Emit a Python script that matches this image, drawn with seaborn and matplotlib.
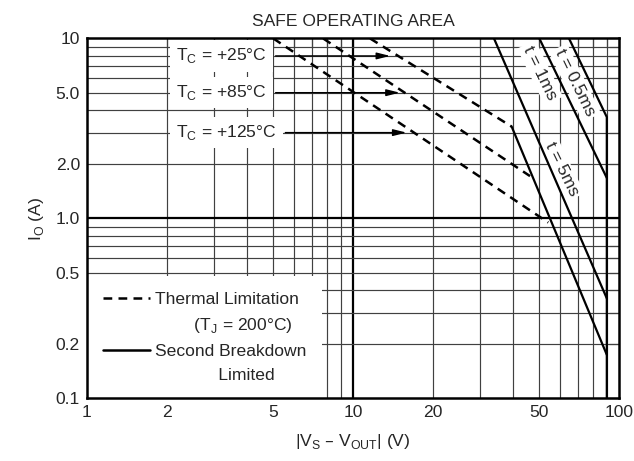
import numpy as np
import pandas as pd
import seaborn as sns
import matplotlib.pyplot as plt
from matplotlib.lines import Line2D
from matplotlib.ticker import FixedLocator, NullFormatter

# thermal limitation (dashed), one line per case temperature
tc_labels = ['+25°C', '+85°C', '+125°C']
thermal_v = [[11.6, 39.5], [7.73, 46.3], [5.02, 54.2]]
thermal_i = [[10.0, 3.24], [10.0, 1.72], [10.0, 0.95]]
arrow_v = [13.8, 15.0, 15.9]
arrow_i = [8.0, 5.0, 3.0]

# second breakdown limits (solid): dc, 5ms, 1ms, 0.5ms
sb_v = [[39.5, 90.0], [33.9, 90.0], [50.2, 90.0], [64.9, 90.0, 90.0]]
sb_i = [[3.24, 0.175], [10.0, 0.36], [10.0, 1.68], [10.0, 3.66, 0.1]]

pulse_text = ['t = 0.5ms', 't = 1ms', 't = 5ms']
pulse_v = [68.3, 50.5, 60.9]
pulse_i = [5.68, 6.46, 1.88]

x_ticks = [1, 2, 5, 10, 20, 50, 100]
x_ticklabels = ['1', '2', '5', '10', '20', '50', '100']
y_ticks = [0.1, 0.2, 0.5, 1, 2, 5, 10]
y_ticklabels = ['0.1', '0.2', '0.5', '1.0', '2.0', '5.0', '10']

grid_v = [2, 3, 4, 5, 6, 7, 8, 9, 10, 20, 30, 40, 50, 60, 70, 80, 90]
grid_h = [0.2, 0.3, 0.4, 0.5, 0.6, 0.7, 0.8, 0.9, 1, 2, 3, 4, 5, 6, 7, 8, 9]

FS = 12.6
DASH = (0, (3.5, 2.5))

sns.set_style('white')
plt.rcParams['font.family'] = ['Liberation Sans', 'DejaVu Sans']
plt.rcParams['font.size'] = FS

fig, ax = plt.subplots(figsize=(6.34, 4.61), dpi=100)
fig.subplots_adjust(left=0.1372, right=0.9763, bottom=0.1356, top=0.9165)
ax.set_xscale('log')
ax.set_yscale('log')
ax.set_xlim(1, 100)
ax.set_ylim(0.1, 10)

# grid drawn by hand so white boxes can sit between grid and ticks
for v in grid_v:
    ax.axvline(v, color='black' if v == 10 else '0.25', lw=1.6 if v == 10 else 0.85, zorder=1)
for h in grid_h:
    ax.axhline(h, color='black' if h == 1 else '0.25', lw=1.6 if h == 1 else 0.85, zorder=1)

for v, i in zip(thermal_v, thermal_i):
    sns.lineplot(x=v, y=i, ax=ax, color='black', lw=1.8, linestyle=DASH,
                 estimator=None, sort=False, zorder=3)
for v, i in zip(sb_v, sb_i):
    sns.lineplot(x=v, y=i, ax=ax, color='black', lw=1.6,
                 estimator=None, sort=False, zorder=3)

for lab, v, i in zip(tc_labels, arrow_v, arrow_i):
    ax.annotate(r'T$_\mathregular{C}$ = ' + lab, xy=(v, i), xytext=(2.16, i),
                ha='left', va='center', fontsize=FS, zorder=2,
                bbox=dict(boxstyle='square,pad=0.35', fc='white', ec='none'),
                arrowprops=dict(arrowstyle='-|>,head_length=0.8,head_width=0.2',
                                color='black', lw=1.0, mutation_scale=10, shrinkB=0))

for t, v, i in zip(pulse_text, pulse_v, pulse_i):
    ax.text(v, i, t, rotation=-64, rotation_mode='anchor', ha='center', va='center',
            fontsize=FS, zorder=2,
            bbox=dict(boxstyle='square,pad=0.15', fc='white', ec='none'))

handles = [Line2D([], [], color='black', lw=1.8, linestyle=DASH),
           Line2D([], [], color='none'),
           Line2D([], [], color='black', lw=1.8),
           Line2D([], [], color='none')]
labels = ['Thermal Limitation', '        (T$_\\mathregular{J}$ = 200°C)',
          'Second Breakdown', '             Limited']
leg = ax.legend(handles, labels, loc='lower left', bbox_to_anchor=(0, 0),
                borderaxespad=0, frameon=True, fancybox=False, framealpha=1,
                facecolor='white', edgecolor='none', handlelength=2.7,
                handletextpad=0.3, borderpad=0.9, labelspacing=0.5, fontsize=FS)
leg.set_zorder(2)

ax.set_xticks(x_ticks)
ax.set_xticklabels(x_ticklabels)
ax.set_yticks(y_ticks)
ax.set_yticklabels(y_ticklabels)
ax.xaxis.set_minor_locator(FixedLocator([3, 4, 6, 7, 8, 9, 30, 40, 60, 70, 80, 90]))
ax.yaxis.set_minor_locator(FixedLocator([0.3, 0.4, 0.6, 0.7, 0.8, 0.9, 3, 4, 6, 7, 8, 9]))
ax.xaxis.set_minor_formatter(NullFormatter())
ax.yaxis.set_minor_formatter(NullFormatter())
ax.tick_params(which='both', direction='in', length=7, width=0.85, top=True, right=True,
               labelsize=FS, pad=5, color='0.2')

for s in ax.spines.values():
    s.set_linewidth(1.8)
    s.set_color('black')

ax.set_title('SAFE OPERATING AREA', fontsize=FS, pad=9)
ax.set_xlabel(r'|V$_\mathregular{S}$ – V$_\mathregular{OUT}$| (V)', fontsize=FS, labelpad=8)
ax.set_ylabel(r'I$_\mathregular{O}$ (A)', fontsize=FS, labelpad=7)

fig.savefig('out.png', dpi=100)
